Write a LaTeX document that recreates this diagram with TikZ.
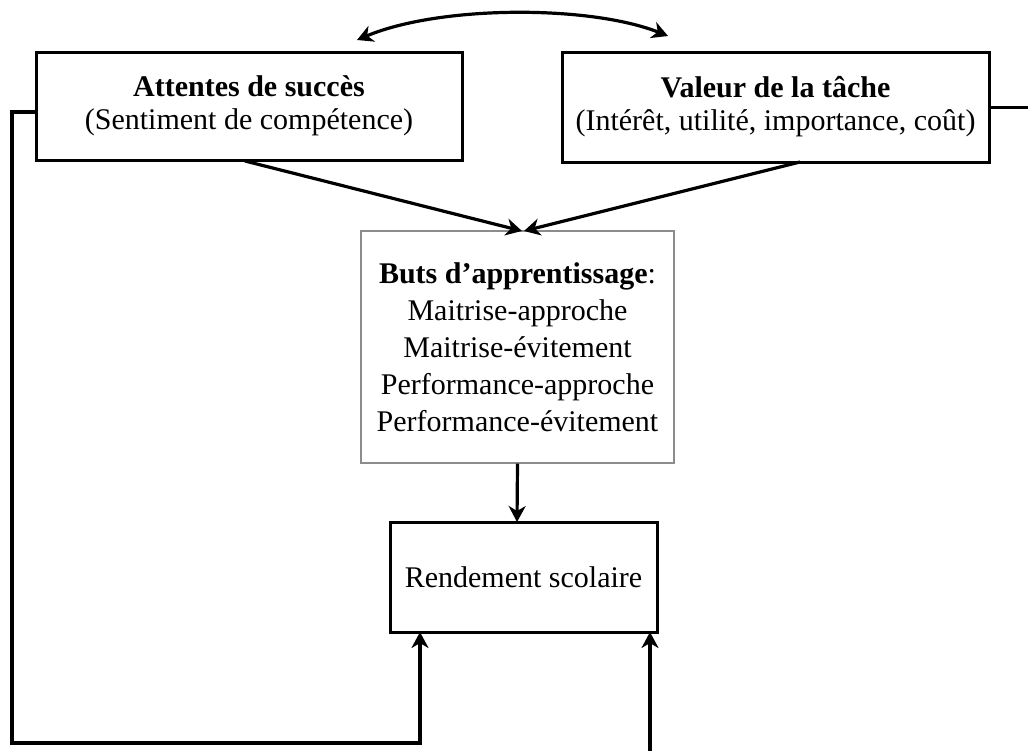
\documentclass[tikz,border=0pt]{standalone}
\usepackage{fontspec}
\setmainfont{Liberation Serif}
\usetikzlibrary{arrows.meta}
\begin{document}
\begin{tikzpicture}[x=0.5pt,y=-0.5pt,
  box/.style={draw=black,line width=1.5pt,fill=white,align=center,inner sep=0pt},
  gbox/.style={draw=black!45,line width=0.6pt,fill=white,align=center,inner sep=0pt},
  txt/.style={font=\fontsize{15}{18.5}\selectfont},
  toptxt/.style={font=\fontsize{15}{16.5}\selectfont},
  conn/.style={line width=1.6pt,-{Stealth[length=8pt,width=8.5pt,inset=2.5pt]}},
  plain/.style={line width=1.5pt}]
\useasboundingbox (0,0) rectangle (1028,750);
\node[box,toptxt,minimum width=213pt,minimum height=54pt] (att) at (249,106)
  {\textbf{Attentes de succès}\\(Sentiment de compétence)};
\node[box,toptxt,minimum width=213.5pt,minimum height=55pt] (val) at (775.5,107)
  {\textbf{Valeur de la tâche}\\(Intérêt, utilité, importance, coût)};
\node[gbox,txt,minimum width=156.5pt,minimum height=116pt] (buts) at (517.5,347)
  {\textbf{Buts d’apprentissage}:\\Maitrise-approche\\Maitrise-évitement\\Performance-approche\\Performance-évitement};
\node[box,txt,minimum width=133.5pt,minimum height=55pt] (rend) at (523.5,577)
  {Rendement scolaire};
\coordinate (lb) at (12,743);
\coordinate (rb) at (1030,107);
\coordinate (bot) at (650,752);
% reciprocal arrow
\draw[line width=1.6pt,{Stealth[length=8pt,width=8.5pt,inset=2.5pt]}-{Stealth[length=8pt,width=8.5pt,inset=2.5pt]}]
  (357,40) .. controls (440,5) and (590,5) .. (668,36);
% to goals
\draw[conn] (245,161) -- (522,231);
\draw[conn] (800,162) -- (524,231);
\draw[conn] (buts.south) -- (517,522);
% feedback lines
\draw[conn] (att.west |- 0,112) -- (12,112) -- (lb) -| (420,632);
\draw[plain] (val.east) -- (rb);
\draw[conn] (bot) -- (650,632);
\end{tikzpicture}
\end{document}
